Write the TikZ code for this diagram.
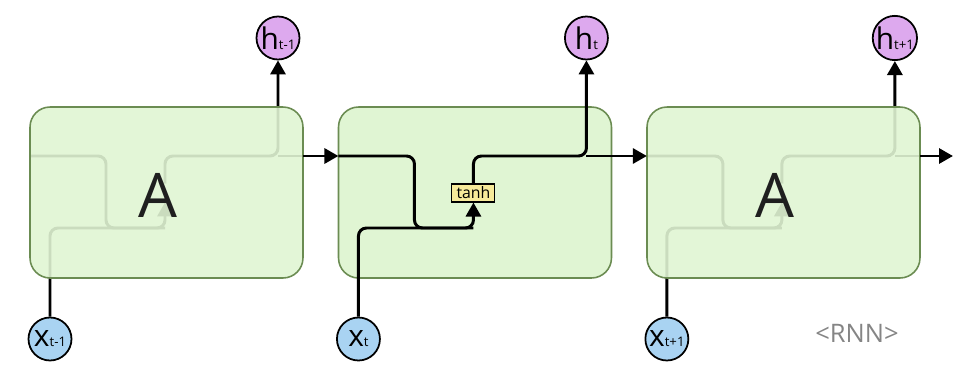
\documentclass[tikz,border=0pt]{standalone}
\usepackage{fontspec}
\setmainfont{Open Sans}
\usetikzlibrary{arrows.meta}
\definecolor{cellfill}{HTML}{E0F5D3}
\definecolor{cellborder}{HTML}{6B8C52}
\definecolor{hcol}{HTML}{DDA9EE}
\definecolor{xcol}{HTML}{A9D3F2}
\definecolor{tanhcol}{HTML}{F7EA9A}
\definecolor{labgray}{HTML}{858585}
\newcommand\mysub[1]{{\fontsize{7.5}{7.5}\selectfont #1}}
\begin{document}
\begin{tikzpicture}[x=0.02cm,y=-0.02cm,
  cellbox/.style={draw=cellborder, fill=cellfill, line width=0.9pt, rounded corners=0.4cm,
    minimum width=5.46cm, minimum height=3.42cm, inner sep=0pt},
  ghostbox/.style={cellbox, fill opacity=0.9},
  wire/.style={line width=1.7pt, rounded corners=0.16cm},
  arr/.style={wire, -{Triangle[length=0.28cm,width=0.3cm]}},
  hnode/.style={circle, draw, line width=1pt, fill=hcol, minimum size=0.86cm, inner sep=0pt,
    font=\fontsize{17}{17}\selectfont},
  xnode/.style={hnode, fill=xcol},
  tanhbox/.style={draw, line width=0.6pt, fill=tanhcol, minimum width=0.86cm, minimum height=0.36cm,
    inner sep=0pt, font=\fontsize{9}{9}\selectfont},
  hiddenbox/.style={minimum width=0.86cm, minimum height=0.36cm, inner sep=0pt},
  bigA/.style={font=\fontsize{35}{35}\selectfont, text=black!88, anchor=base, inner sep=0pt}
]
\useasboundingbox (0,0) rectangle (968,379);

% middle cell background (opaque, under its wires)
\node[cellbox] (cell2) at (475,192.5) {};

\foreach \i/\hl/\xl in {1/{t-1}/{t-1},2/{t}/{t},3/{t+1}/{t+1}} {
  \begin{scope}[xshift={(\i-1)*6.17cm}]
    \node[hnode] (h\i) at (278,38) {h\mysub{\hl}};
    \node[xnode] (x\i) at (50,339) {x\mysub{\xl}};
    \ifnum\i=2
      \node[tanhbox] (tanh\i) at (165,193) {tanh};
    \else
      \node[hiddenbox] (tanh\i) at (165,193) {};
    \fi
    \coordinate (in\i) at (30,156);
    \coordinate (out\i) at (303,156);
    \coordinate (turn\i) at (106,156);
    \coordinate (low\i) at (106,228);
    \coordinate (join\i) at (165,228);
    \coordinate (split\i) at (278,156);
    % input from x
    \draw[arr] (x\i.north) |- (join\i) -- (tanh\i.south);
    % recurrent input
    \draw[wire] (in\i) -- (turn\i) -- (low\i) -- (join\i);
    % output
    \draw[arr] (tanh\i.north) |- (split\i) -- (h\i.south);
    \draw[wire] (split\i) -- (out\i);
  \end{scope}
}

% faded outer cells over their wires
\node[ghostbox] (cell1) at (166.5,192.5) {};
\node[ghostbox] (cell3) at (783.5,192.5) {};
\node[bigA] (A1) at (158,217) {A};
\node[bigA] (A3) at (775,217) {A};

% connections between cells
\draw[arr] (out1) -- (in2);
\draw[arr] (out2) -- (in3);
\coordinate (end3) at (953,156);
\draw[arr] (out3) -- (end3);

\node[text=labgray, font=\fontsize{14.5}{14.5}\selectfont] (rnn) at (857,333) {<RNN>};
\end{tikzpicture}
\end{document}
